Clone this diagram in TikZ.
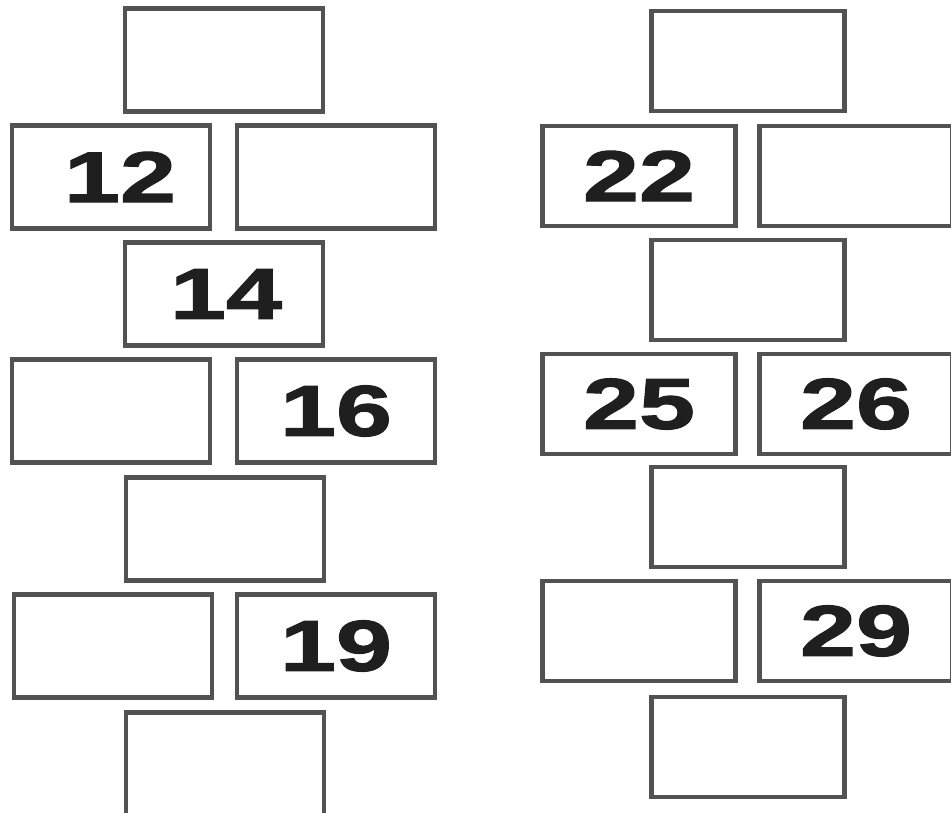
\documentclass[tikz,border=0pt]{standalone}
\usepackage{fontspec}
\newfontfamily\brickfont{Liberation Sans}[FakeStretch=1.4,FakeBold=1.6]
\usetikzlibrary{positioning}

\begin{document}
\begin{tikzpicture}[
    x=1pt, y=-1pt,
    brick/.style={draw=black!68, line width=4.5pt, fill=white, inner sep=0pt,
        minimum width=198pt, minimum height=103pt, text=black!88,
        font=\brickfont\bfseries\fontsize{72}{72}\selectfont},
    rbrick/.style={brick, minimum width=193pt, minimum height=100pt}
]
\useasboundingbox (0,0) rectangle (951,813);

% left hopscotch
\node[brick] (lA) at (224,60) {};
\node[brick] (lB1) at (111,177) {\hspace{18pt}12};
\node[brick] (lB2) at (336,177) {};
\node[brick] (lC) at (224,294) {\hspace{4pt}14};
\node[brick] (lD1) at (111,411) {};
\node[brick] (lD2) at (336,411) {16};
\node[brick] (lE) at (225,529) {};
\node[brick] (lF1) at (113,646) {};
\node[brick] (lF2) at (336,646) {19};
\node[brick] (lG) at (225,764) {};

% right hopscotch
\node[rbrick] (rA) at (748,61) {};
\node[rbrick] (rB1) at (639,176) {22};
\node[rbrick] (rB2) at (856,176) {};
\node[rbrick] (rC) at (748,290) {};
\node[rbrick] (rD1) at (639,404) {25};
\node[rbrick] (rD2) at (856,404) {26};
\node[rbrick] (rE) at (748,517) {};
\node[rbrick] (rF1) at (639,631) {};
\node[rbrick] (rF2) at (856,631) {29};
\node[rbrick] (rG) at (748,747) {};
\end{tikzpicture}
\end{document}
